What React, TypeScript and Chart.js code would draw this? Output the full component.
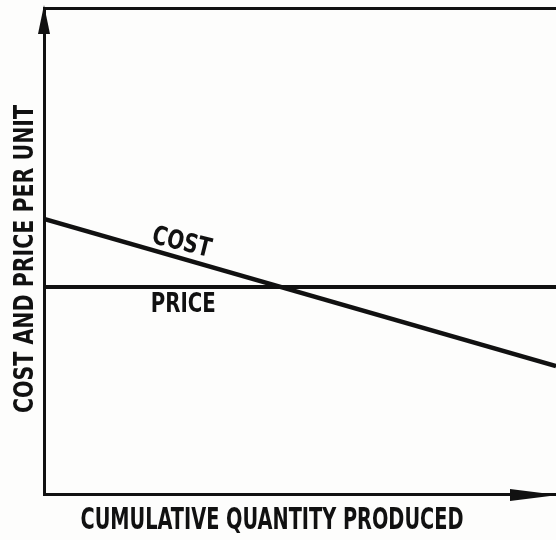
import React, { useEffect, useRef } from "react";
import { Chart, registerables } from "chart.js";

Chart.register(...registerables);

// Data (arbitrary units: 0..100 on both axes)
const quantity = [0, 100];
const costPerUnit = [56.6, 26.3];
const pricePerUnit = [42.6, 42.6];
const seriesLabels = ["COST", "PRICE"];
const xTitle = "CUMULATIVE QUANTITY PRODUCED";
const yTitle = "COST AND PRICE PER UNIT";

const INK = "#111111";
const FONT = '"Liberation Sans Narrow", "DejaVu Sans Condensed", "Arial Narrow", sans-serif';

function drawText(
  ctx: CanvasRenderingContext2D,
  text: string,
  cx: number,
  cy: number,
  angle: number,
  capH: number,
  width: number
) {
  ctx.save();
  ctx.font = `bold 100px ${FONT}`;
  const m = ctx.measureText(text);
  const asc = ctx.measureText("H").actualBoundingBoxAscent || 72;
  const sx = width / m.width;
  const sy = capH / asc;
  ctx.translate(cx, cy);
  ctx.rotate(angle);
  ctx.scale(sx, sy);
  ctx.fillStyle = INK;
  ctx.textAlign = "center";
  ctx.textBaseline = "alphabetic";
  ctx.fillText(text, 0, asc / 2);
  ctx.restore();
}

const decorPlugin = {
  id: "decor",
  beforeDraw(chart: any) {
    const ctx = chart.ctx;
    ctx.save();
    ctx.fillStyle = "#fdfdfc";
    ctx.fillRect(0, 0, chart.width, chart.height);
    ctx.restore();
  },
  afterDraw(chart: any) {
    const ctx: CanvasRenderingContext2D = chart.ctx;
    const a = chart.chartArea;
    const xs = chart.scales.x;
    const ys = chart.scales.y;
    ctx.save();
    ctx.fillStyle = INK;
    // y axis arrow head
    ctx.beginPath();
    ctx.moveTo(a.left, a.top - 3);
    ctx.lineTo(a.left - 6, a.top + 26);
    ctx.lineTo(a.left + 6, a.top + 26);
    ctx.closePath();
    ctx.fill();
    // x axis arrow head
    ctx.beginPath();
    ctx.moveTo(a.right + 1, a.bottom + 1);
    ctx.lineTo(a.right - 46, a.bottom - 5);
    ctx.lineTo(a.right - 46, a.bottom + 7);
    ctx.closePath();
    ctx.fill();
    ctx.restore();

    // axis titles
    drawText(ctx, xTitle, a.left + 228, a.bottom + 24, 0, 22, 383);
    drawText(ctx, yTitle, a.left - 21, (a.top + a.bottom) / 2 + 8, -Math.PI / 2, 20, 308);

    // series labels
    const lx = xs.getPixelForValue(27);
    const costY = ys.getPixelForValue(costPerUnit[0] + (costPerUnit[1] - costPerUnit[0]) * 0.27);
    const priceY = ys.getPixelForValue(pricePerUnit[0]);
    drawText(ctx, seriesLabels[0], lx, costY - 18, (14 * Math.PI) / 180, 19, 60);
    drawText(ctx, seriesLabels[1], lx + 1, priceY + 16, 0, 19, 65);
  },
};

export default function App() {
  const ref = useRef<HTMLCanvasElement | null>(null);
  useEffect(() => {
    document.body.style.margin = "0";
    const chart = new Chart(ref.current as HTMLCanvasElement, {
      type: "line",
      data: {
        datasets: [
          {
            label: seriesLabels[0],
            data: quantity.map((q, i) => ({ x: q, y: costPerUnit[i] })),
            borderColor: INK,
            borderWidth: 4.5,
            pointRadius: 0,
            tension: 0,
          },
          {
            label: seriesLabels[1],
            data: quantity.map((q, i) => ({ x: q, y: pricePerUnit[i] })),
            borderColor: INK,
            borderWidth: 4,
            pointRadius: 0,
            tension: 0,
          },
        ],
      },
      options: {
        responsive: false,
        animation: false,
        events: [],
        layout: { padding: { left: 44, right: 0, top: 8, bottom: 46 } },
        plugins: { legend: { display: false }, tooltip: { enabled: false } },
        scales: {
          x: {
            type: "linear",
            min: 0,
            max: 100,
            ticks: { display: false },
            grid: { display: false, drawTicks: false },
            border: { display: true, color: INK, width: 3 },
          },
          xTop: {
            type: "linear",
            position: "top",
            min: 0,
            max: 100,
            ticks: { display: false },
            grid: { display: false, drawTicks: false },
            border: { display: true, color: INK, width: 3 },
          },
          y: {
            type: "linear",
            min: 0,
            max: 100,
            ticks: { display: false },
            grid: { display: false, drawTicks: false },
            border: { display: true, color: INK, width: 3 },
          },
        },
      },
      plugins: [decorPlugin],
    });
    return () => chart.destroy();
  }, []);
  return (
    <div style={{ position: "absolute", left: 0, top: 0, width: 556, height: 540 }}>
      <canvas ref={ref} width={556} height={540} />
    </div>
  );
}
